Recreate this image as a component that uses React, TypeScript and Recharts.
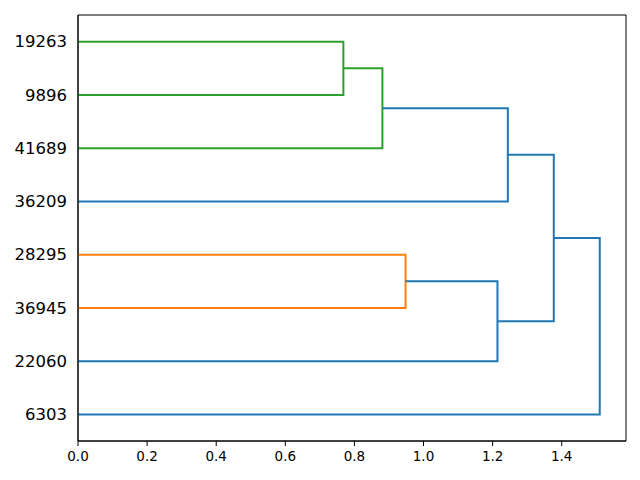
import { LineChart, Line, XAxis, YAxis, ReferenceArea } from 'recharts'

// leaves from bottom to top (scipy positions 5, 15, 25, ...)
const leafLabels = ['6303', '22060', '36945', '28295', '36209', '41689', '9896', '19263']
const leafPositions = [5, 15, 25, 35, 45, 55, 65, 75]

// merges: [left child, right child], node ids >= 8 are earlier merges
const mergeChildren = [
  [7, 6],
  [8, 5],
  [9, 4],
  [3, 2],
  [11, 1],
  [10, 12],
  [13, 0],
]
const mergeHeights = [0.768, 0.881, 1.244, 0.948, 1.214, 1.377, 1.51]
const mergeColors = ['#2ca02c', '#2ca02c', '#1f77b4', '#ff7f0e', '#1f77b4', '#1f77b4', '#1f77b4']

const xTicks = [0, 0.2, 0.4, 0.6, 0.8, 1.0, 1.2, 1.4]
const xMax = 1.586

// build the U-shaped links from the merge table
const nodeX: number[] = leafPositions.map(() => 0)
const nodeY: number[] = [...leafPositions]
const links = mergeChildren.map(([a, b], i) => {
  const h = mergeHeights[i]
  const pts = [
    { x: nodeX[a], y: nodeY[a] },
    { x: h, y: nodeY[a] },
    { x: h, y: nodeY[b] },
    { x: nodeX[b], y: nodeY[b] },
  ]
  nodeX.push(h)
  nodeY.push((nodeY[a] + nodeY[b]) / 2)
  return { pts, color: mergeColors[i] }
})

const font = 'DejaVu Sans, sans-serif'

export default function App() {
  return (
    <div style={{ position: 'absolute', left: 0, top: 0, width: 640, height: 480, background: '#fff' }}>
      <LineChart width={640} height={480} margin={{ top: 15, right: 14, bottom: 0, left: 0 }}>
        <XAxis
          type="number"
          dataKey="x"
          domain={[0, xMax]}
          ticks={xTicks}
          allowDataOverflow
          tickFormatter={v => v.toFixed(1)}
          height={39}
          stroke="#000"
          tickSize={5}
          tickMargin={5}
          tick={{ fill: '#000', fontSize: 13.5, fontFamily: font }}
        />
        <YAxis
          type="number"
          dataKey="y"
          domain={[0, 80]}
          ticks={leafPositions}
          allowDataOverflow
          tickFormatter={v => leafLabels[leafPositions.indexOf(v)] ?? ''}
          width={78}
          stroke="#000"
          tickLine={false}
          tickSize={0}
          tickMargin={11}
          tick={{ fill: '#000', fontSize: 16.5, fontFamily: font }}
        />
        {links.map((l, i) => (
          <Line
            key={i}
            data={l.pts}
            dataKey="y"
            type="linear"
            stroke={l.color}
            strokeWidth={2}
            dot={false}
            activeDot={false}
            isAnimationActive={false}
          />
        ))}
        <ReferenceArea
          x1={0}
          x2={xMax}
          y1={0}
          y2={80}
          fill="none"
          fillOpacity={0}
          stroke="#000"
          strokeWidth={1}
          ifOverflow="visible"
        />
      </LineChart>
    </div>
  )
}
